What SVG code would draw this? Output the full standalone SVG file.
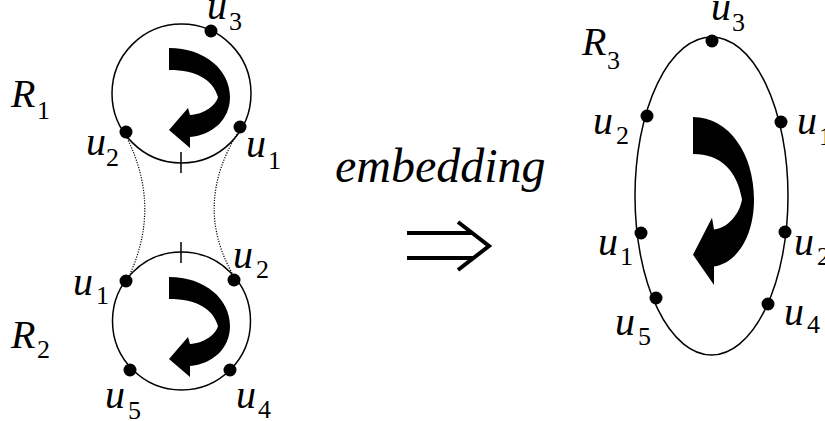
<svg xmlns="http://www.w3.org/2000/svg" xmlns:xlink="http://www.w3.org/1999/xlink" width="825" height="421" viewBox="0 0 825 421">
<style>
.ring{fill:none;stroke:#000;stroke-width:1.5}
.dot{fill:#000}
.tick{stroke:#000;stroke-width:1.5}
text{font-family:'Liberation Serif','DejaVu Serif',serif;fill:#000}
.lbl{font-style:italic;font-size:40px}
.sub{font-style:normal;font-size:26px}
.dots{fill:none;stroke:#000;stroke-width:1.2;stroke-dasharray:1.2 1.4}
.big{font-style:italic;font-size:48px}
.impl{fill:none;stroke:#000;stroke-width:4}
</style>
<defs>
<path id="rot" d="M0,0 C36,0 61,22 61,49 C61,72 43,87 21,89 L21,100 L0,82 L19,60 L21,67 C36,66 47,57 49,49 C44,32 28,22 0,22 Z" fill="#000"/>
</defs>
<rect width="825" height="421" fill="#fff"/>
<g id="connectors">
<path class="dots" d="M127,138 Q161,206 130,274"/>
<path class="dots" d="M237,134 Q194,205 232,273"/>
<path class="impl" d="M407,233 H473 M407,258 H473 M458,222 L489,246 L458,270"/>
</g>
<g id="R1">
<circle class="ring" cx="181.5" cy="93.5" r="69.5"/>
<line class="tick" x1="181" y1="152" x2="181" y2="173"/>
<use xlink:href="#rot" x="169" y="48"/>
<circle class="dot" cx="211" cy="31" r="6.5"/>
<circle class="dot" cx="126" cy="132" r="6.5"/>
<circle class="dot" cx="240" cy="127" r="6.5"/>
<text class="lbl" x="11" y="107">R<tspan class="sub" x="37" y="119">1</tspan></text>
<text class="lbl" x="207" y="19">u<tspan class="sub" x="229" y="30">3</tspan></text>
<text class="lbl" x="86" y="155">u<tspan class="sub" x="106" y="166">2</tspan></text>
<text class="lbl" x="246" y="157">u<tspan class="sub" x="268" y="169">1</tspan></text>
</g>
<g id="R2">
<circle class="ring" cx="181.5" cy="321" r="69"/>
<line class="tick" x1="181" y1="242" x2="181" y2="263"/>
<use xlink:href="#rot" x="169" y="277"/>
<circle class="dot" cx="126" cy="281" r="6.5"/>
<circle class="dot" cx="234" cy="280" r="6.5"/>
<circle class="dot" cx="130" cy="370" r="6.5"/>
<circle class="dot" cx="230" cy="370" r="6.5"/>
<text class="lbl" x="11" y="348">R<tspan class="sub" x="37" y="358">2</tspan></text>
<text class="lbl" x="73" y="295">u<tspan class="sub" x="96" y="304">1</tspan></text>
<text class="lbl" x="233" y="268">u<tspan class="sub" x="256" y="278">2</tspan></text>
<text class="lbl" x="105" y="408">u<tspan class="sub" x="128" y="419">5</tspan></text>
<text class="lbl" x="236" y="408">u<tspan class="sub" x="258" y="418">4</tspan></text>
</g>
<g id="embedding">
<text class="big" x="335" y="182">embedding</text>
</g>
<g id="R3">
<ellipse class="ring" cx="711.5" cy="196" rx="76.5" ry="159"/>
<use xlink:href="#rot" transform="translate(693,117) scale(1,1.68)"/>
<circle class="dot" cx="712" cy="41" r="6.5"/>
<circle class="dot" cx="647" cy="116" r="6.5"/>
<circle class="dot" cx="781" cy="122" r="6.5"/>
<circle class="dot" cx="641" cy="233" r="6.5"/>
<circle class="dot" cx="785" cy="232" r="6.5"/>
<circle class="dot" cx="656" cy="298" r="6.5"/>
<circle class="dot" cx="768" cy="304" r="6.5"/>
<text class="lbl" x="582" y="55">R<tspan class="sub" x="607" y="69">3</tspan></text>
<text class="lbl" x="711" y="20">u<tspan class="sub" x="732" y="31">3</tspan></text>
<text class="lbl" x="593" y="134">u<tspan class="sub" x="616" y="144">2</tspan></text>
<text class="lbl" x="797" y="134">u<tspan class="sub" x="819" y="145">1</tspan></text>
<text class="lbl" x="598" y="255">u<tspan class="sub" x="620" y="265">1</tspan></text>
<text class="lbl" x="794" y="255">u<tspan class="sub" x="817" y="265">2</tspan></text>
<text class="lbl" x="615" y="335">u<tspan class="sub" x="638" y="345">5</tspan></text>
<text class="lbl" x="784" y="325">u<tspan class="sub" x="807" y="333">4</tspan></text>
</g>
</svg>
